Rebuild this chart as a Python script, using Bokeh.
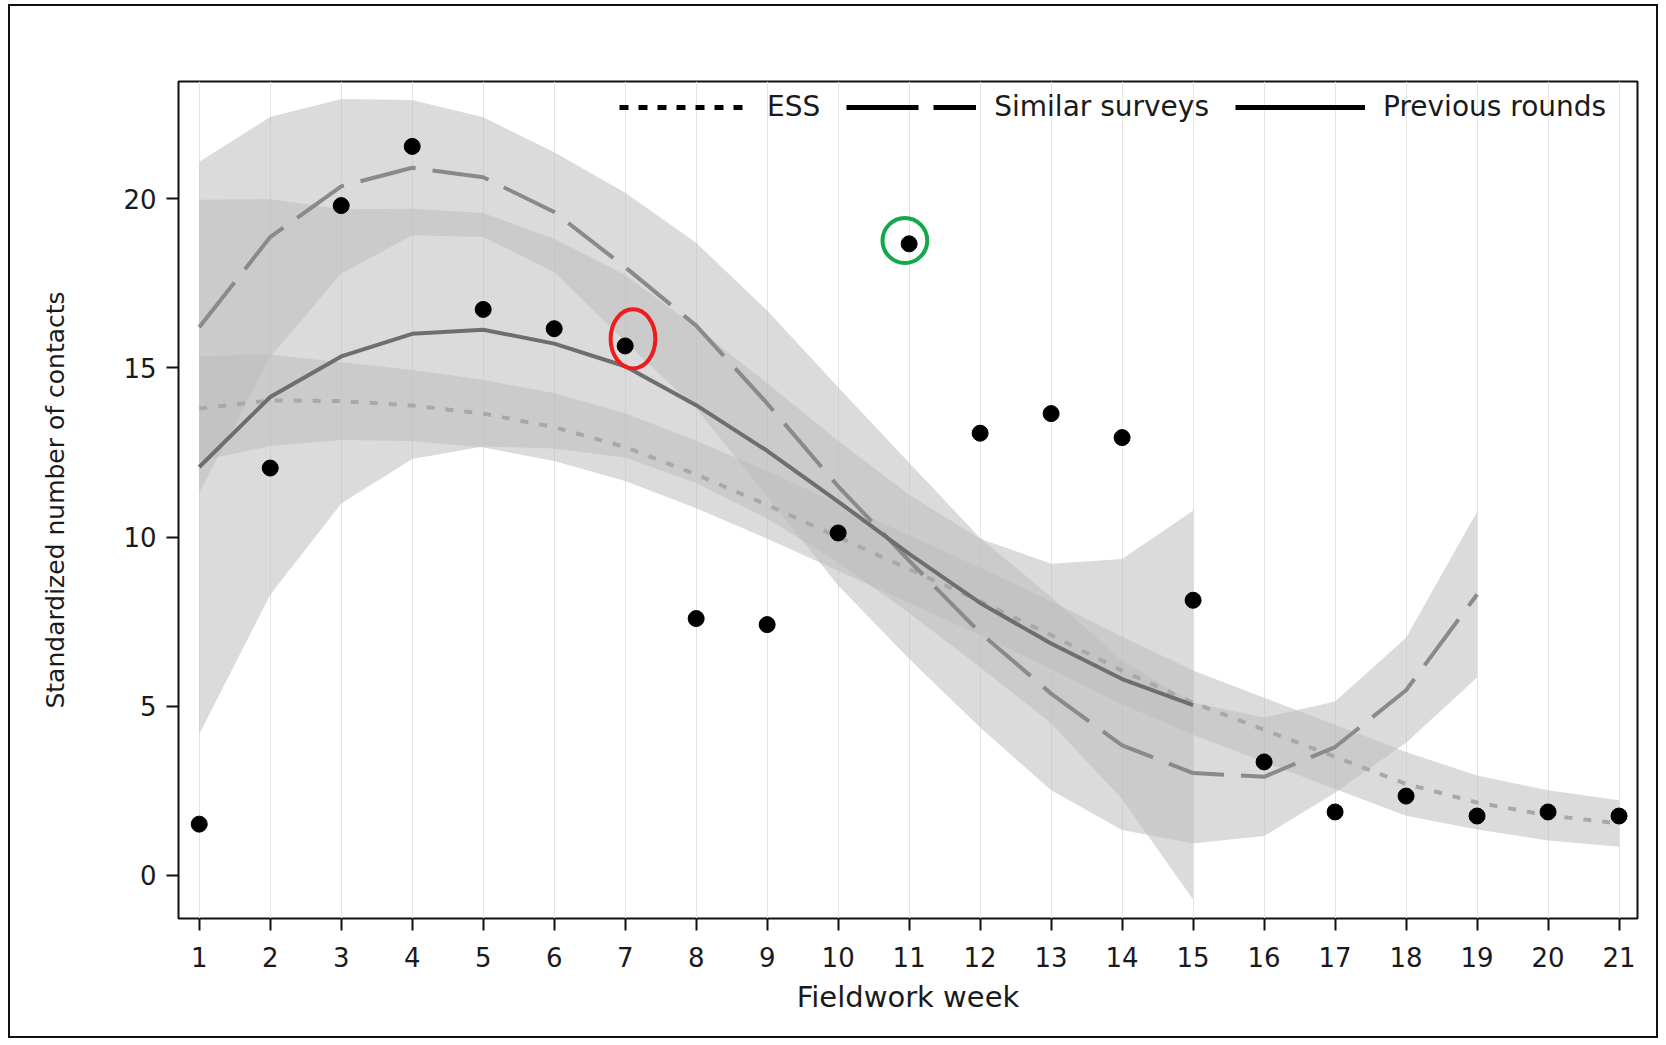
from bokeh.plotting import figure
from bokeh.models import FixedTicker, Legend, LegendItem
from bokeh.embed import file_html
from bokeh.resources import INLINE

# ---------------- data ----------------
weeks = list(range(1, 22))
contacts = [1.51, 12.04, 19.80, 21.55, 16.73, 16.16, 15.65, 7.59, 7.41, 10.12,
            18.67, 13.07, 13.65, 12.94, 8.13, 3.35, 1.87, 2.34, 1.75, 1.87, 1.75]

ess_weeks = list(range(1, 22))
ess_fit = [13.80, 14.04, 14.02, 13.89, 13.65, 13.25, 12.66, 11.85, 10.95, 10.00,
           9.05, 8.10, 7.10, 6.05, 5.10, 4.30, 3.50, 2.70, 2.15, 1.77, 1.53]
ess_upper = [15.35, 15.39, 15.17, 14.94, 14.65, 14.25, 13.66, 12.85, 11.95, 11.00,
             10.05, 9.10, 8.10, 7.05, 6.05, 5.25, 4.45, 3.64, 2.95, 2.51, 2.22]
ess_lower = [12.25, 12.69, 12.87, 12.84, 12.65, 12.25, 11.66, 10.85, 9.95, 9.00,
             8.05, 7.10, 6.10, 5.05, 4.15, 3.35, 2.55, 1.76, 1.35, 1.03, 0.84]

sim_weeks = list(range(1, 20))
sim_fit = [16.20, 18.87, 20.37, 20.92, 20.64, 19.61, 17.98, 16.25, 13.95, 11.50,
           9.30, 7.17, 5.37, 3.84, 3.02, 2.91, 3.79, 5.47, 8.30]
sim_upper = [21.10, 22.42, 22.95, 22.92, 22.41, 21.38, 20.18, 18.70, 16.70, 14.43,
             12.20, 9.97, 8.23, 6.34, 5.10, 4.66, 5.14, 7.02, 10.75]
sim_lower = [11.30, 15.32, 17.79, 18.92, 18.87, 17.84, 15.78, 13.80, 11.20, 8.57,
             6.40, 4.37, 2.51, 1.34, 0.94, 1.16, 2.44, 3.92, 5.85]

prev_weeks = list(range(1, 16))
prev_fit = [12.07, 14.14, 15.34, 16.01, 16.13, 15.72, 15.05, 13.90, 12.55, 11.05,
            9.50, 8.05, 6.85, 5.80, 5.03]
prev_upper = [19.97, 19.99, 19.69, 19.71, 19.58, 18.82, 17.75, 16.20, 14.55, 12.85,
              11.25, 9.95, 9.21, 9.35, 10.78]
prev_lower = [4.17, 8.29, 10.99, 12.31, 12.68, 12.62, 12.35, 11.60, 10.55, 9.25,
              7.75, 6.15, 4.49, 2.25, -0.72]

highlight_x = [7.11, 10.94]
highlight_y = [15.86, 18.77]
highlight_w = [0.63, 0.63]
highlight_h = [1.75, 1.33]
highlight_colors = ["#ee1c1c", "#13a84b"]

x_ticks = list(range(1, 22))
y_ticks = [0, 5, 10, 15, 20]
series_names = ["ESS", "Similar surveys", "Previous rounds"]

FONT = "DejaVu Sans"
NAN = float("nan")

p = figure(width=1650, height=1034, output_backend="svg", toolbar_location=None,
           x_range=(0.708, 21.26), y_range=(-1.28, 23.47),
           min_border_left=168, min_border_right=23, min_border_top=75,
           min_border_bottom=122)
p.styles = {"margin-left": "8px", "margin-top": "4px", "border": "2px solid #111"}
p.outline_line_color = "#111111"
p.outline_line_width = 2
p.background_fill_color = "white"
p.border_fill_color = "white"

# grid
p.ygrid.visible = False
p.xgrid.ticker = FixedTicker(ticks=x_ticks)
p.xgrid.grid_line_color = "#e4e4e4"
p.xgrid.grid_line_width = 1

# bands
band_color = "#bdbdbd"
band_alpha = 0.55
p.varea(x=sim_weeks, y1=sim_lower, y2=sim_upper, fill_color=band_color, fill_alpha=band_alpha)
p.varea(x=prev_weeks, y1=prev_lower, y2=prev_upper, fill_color=band_color, fill_alpha=band_alpha)
p.varea(x=ess_weeks, y1=ess_lower, y2=ess_upper, fill_color=band_color, fill_alpha=band_alpha)

# fitted lines
p.line(ess_weeks, ess_fit, line_color="#a8a8a8", line_width=4, line_dash="8 11")
p.line(sim_weeks, sim_fit, line_color="#8a8a8a", line_width=4, line_dash="57 17")
p.line(prev_weeks, prev_fit, line_color="#6e6e6e", line_width=4)

# observed points
p.scatter(weeks, contacts, size=16, marker="circle", fill_color="black", line_color="black")

# highlight rings
p.ellipse(x=highlight_x, y=highlight_y, width=highlight_w, height=highlight_h,
          fill_color=None, line_color=highlight_colors, line_width=4)

# legend proxies (black, thick); NaN data so nothing is drawn in the plot area
r_ess = p.line([NAN, NAN], [NAN, NAN], line_color="black", line_width=5, line_dash="9 10")
r_sim = p.line([NAN, NAN], [NAN, NAN], line_color="black", line_width=5, line_dash="72 15")
r_prev = p.line([NAN, NAN], [NAN, NAN], line_color="black", line_width=5)
legend = Legend(items=[LegendItem(label=series_names[0], renderers=[r_ess]),
                       LegendItem(label=series_names[1], renderers=[r_sim]),
                       LegendItem(label=series_names[2], renderers=[r_prev])],
                orientation="horizontal", location=(441, 795),
                glyph_width=130, glyph_height=20, label_standoff=18, spacing=26,
                margin=0, padding=10, border_line_color=None,
                background_fill_alpha=0.0,
                label_text_font=FONT, label_text_font_size="28px",
                label_text_color="#1a1a1a")
p.add_layout(legend)

# axes
p.xaxis.ticker = FixedTicker(ticks=x_ticks)
p.yaxis.ticker = FixedTicker(ticks=y_ticks)
for ax in (p.xaxis[0], p.yaxis[0]):
    ax.axis_line_color = None
    ax.major_tick_in = 0
    ax.major_tick_out = 12
    ax.major_tick_line_width = 2
    ax.major_tick_line_color = "#111111"
    ax.minor_tick_line_color = None
    ax.major_label_text_font = FONT
    ax.major_label_text_font_size = "26px"
    ax.major_label_text_color = "#1a1a1a"
    ax.axis_label_text_font = FONT
    ax.axis_label_text_font_style = "normal"
    ax.axis_label_text_color = "#1a1a1a"

p.xaxis.axis_label = "Fieldwork week"
p.xaxis.axis_label_text_font_size = "29px"
p.xaxis.major_label_standoff = 16
p.xaxis.axis_label_standoff = 10

p.yaxis.axis_label = "Standardized number of contacts"
p.yaxis.axis_label_text_font_size = "25px"
p.yaxis.major_label_standoff = 10
p.yaxis.axis_label_standoff = 50

open("out.html", "w").write(file_html(p, INLINE))
